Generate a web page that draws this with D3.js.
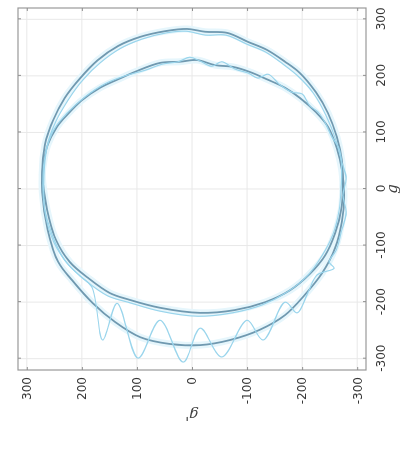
<!DOCTYPE html>
<html>
<head>
<meta charset="utf-8">
<script src="https://cdn.jsdelivr.net/npm/d3@7"></script>
<style>
  body { margin: 0; background: #fff; }
</style>
</head>
<body>
<svg id="chart" width="406" height="453"></svg>
<script>
// points as [g, g']
const tickValues = [-300, -200, -100, 0, 100, 200, 300]
const xLabel = 'g'
const yLabel = "g'"

const orbitA = [[25,272],[78,267],[122,252],[161,231],[196,203],[228,171],[253,134],[269,94],[279,49],[283,9],
  [278,-24],[276,-64],[260,-102],[246,-136],[225,-169],[205,-196],[171,-225],[134,-247],[92,-263],[51,-272],
  [7,-274],[-37,-271],[-78,-260],[-117,-242],[-150,-214],[-179,-178],[-200,-133],[-214,-78],[-219,-15],[-210,58],
  [-196,113],[-184,149],[-157,189],[-129,222],[-90,247],[-37,263]]

const orbitB = [[-5,272],[37,271],[78,262],[110,245],[131,227],[157,200],[179,167],[194,134],[207,104],[223,58],
  [225,22],[228,-9],[219,-42],[216,-74],[207,-105],[194,-136],[179,-169],[161,-196],[136,-225],[110,-247],
  [72,-263],[34,-272],[-11,-276],[-58,-272],[-104,-260],[-149,-236],[-187,-205],[-223,-169],[-249,-123],[-267,-69],
  [-276,-15],[-274,40],[-262,94],[-235,140],[-202,180],[-161,218],[-129,243],[-72,262]]

const traceC = [[7,271],[69,265],[108,249],[136,225],[163,194],[186,158],[200,122],[210,85],[221,53],[225,25],
  [233,4],[226,-15],[217,-36],[225,-54],[212,-78],[205,-102],[196,-120],[203,-138],[184,-160],[171,-182],
  [168,-200],[147,-214],[136,-229],[115,-243],[92,-254],[72,-267],[48,-272],[19,-280],[-11,-274],[-41,-280],
  [-76,-271],[-108,-262],[-129,-249],[-140,-258],[-152,-227],[-182,-211],[-219,-191],[-200,-169],[-267,-129],[-232,-100],
  [-297,-54],[-246,-15],[-306,16],[-232,58],[-299,98],[-202,136],[-267,162],[-173,182],[-154,203],[-126,231],
  [-81,254],[-37,267]]

const traceD = [[23,269],[76,263],[120,247],[157,225],[193,198],[223,167],[248,131],[265,91],[276,47],[279,11],
  [272,-25],[272,-62],[256,-100],[242,-134],[221,-165],[200,-192],[170,-220],[131,-243],[87,-261],[48,-271],
  [4,-271],[-39,-267],[-80,-256],[-118,-236],[-154,-209],[-182,-173],[-205,-127],[-219,-73],[-225,-11],[-216,58],
  [-201,113],[-189,153],[-163,192],[-133,225],[-94,251],[-41,267]]

// plot is drawn upright, then turned a quarter turn
const W = 362, H = 348

let svg = d3.select('#chart')

svg.append('defs').append('filter').attr('id', 'soft')
    .attr('x', '-10%').attr('y', '-10%').attr('width', '120%').attr('height', '120%')
    .append('feGaussianBlur').attr('stdDeviation', 0.5)

let plot = svg.append('g')
    .attr('transform', 'translate(18,370) rotate(-90)')
    .attr('filter', 'url(#soft)')

let x = d3.scaleLinear().domain([-320, 320]).range([0, W])
let y = d3.scaleLinear().domain([-316, 316]).range([H, 0])

// grid
plot.append('g').selectAll('line').data(tickValues).join('line')
    .attr('x1', d => x(d)).attr('x2', d => x(d))
    .attr('y1', 0).attr('y2', H)
    .style('stroke', '#e8e8e8').style('stroke-width', 1)

plot.append('g').selectAll('line').data(tickValues).join('line')
    .attr('x1', 0).attr('x2', W)
    .attr('y1', d => y(d)).attr('y2', d => y(d))
    .style('stroke', '#e8e8e8').style('stroke-width', 1)

// curves
let line = d3.line()
    .x(d => x(d[0]))
    .y(d => y(d[1]))
    .curve(d3.curveCatmullRomClosed.alpha(0.5))

plot.selectAll('.halo').data([orbitA, orbitB]).join('path')
    .attr('class', 'halo')
    .attr('d', line)
    .style('fill', 'none')
    .style('stroke', '#e6f6fc')
    .style('stroke-width', 7)

plot.selectAll('.dark').data([orbitA, orbitB]).join('path')
    .attr('class', 'dark')
    .attr('d', line)
    .style('fill', 'none')
    .style('stroke', '#7099b0')
    .style('stroke-width', 1.8)

plot.selectAll('.light').data([traceD, traceC]).join('path')
    .attr('class', 'light')
    .attr('d', line)
    .style('fill', 'none')
    .style('stroke', '#9ad5ec')
    .style('stroke-width', 1.2)

// frame and axes
plot.append('rect')
    .attr('width', W).attr('height', H)
    .style('fill', 'none')
    .style('stroke', '#999999')
    .style('stroke-width', 1.2)

let fmt = d => d

plot.append('g').attr('transform', `translate(0,${H})`)
    .call(d3.axisBottom(x).tickValues(tickValues).tickSize(-3).tickPadding(10).tickFormat(fmt))

plot.append('g')
    .call(d3.axisLeft(y).tickValues(tickValues).tickSize(-3).tickPadding(7).tickFormat(fmt))

plot.append('g').call(d3.axisTop(x).tickValues(tickValues).tickSize(-3).tickFormat(''))
plot.append('g').attr('transform', `translate(${W},0)`)
    .call(d3.axisRight(y).tickValues(tickValues).tickSize(-3).tickFormat(''))

plot.selectAll('.domain').remove()
plot.selectAll('.tick line').style('stroke', '#909090')
plot.selectAll('.tick text')
    .style('font-family', 'DejaVu Sans')
    .style('font-size', '12px')
    .style('fill', '#383838')

plot.append('text')
    .attr('x', W / 2)
    .attr('y', H + 31)
    .attr('text-anchor', 'middle')
    .text(xLabel)
    .style('font-family', 'DejaVu Serif')
    .style('font-style', 'italic')
    .style('font-size', '15px')
    .style('fill', '#404040')

plot.append('text')
    .attr('transform', `translate(-40,${H / 2}) rotate(-90)`)
    .attr('text-anchor', 'middle')
    .text(yLabel)
    .style('font-family', 'DejaVu Serif')
    .style('font-style', 'italic')
    .style('font-size', '15px')
    .style('fill', '#404040')
</script>
</body>
</html>
